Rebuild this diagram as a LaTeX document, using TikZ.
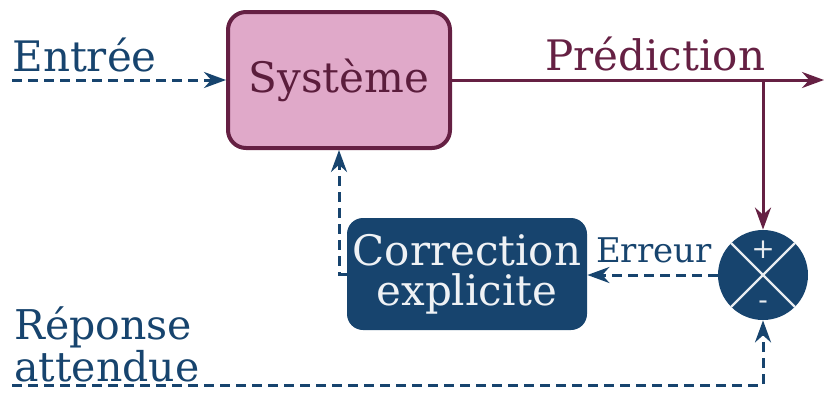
\documentclass[tikz,border=0pt]{standalone}
\usepackage{fontspec}
\setmainfont{DejaVuSerif.ttf}[BoldFont=DejaVuSerif-Bold.ttf]
\usetikzlibrary{arrows.meta,positioning}
\definecolor{bleu}{HTML}{17446E}
\definecolor{prune}{HTML}{652043}
\definecolor{rose}{HTML}{E0A9C9}

\tikzset{
  blk/.style={rectangle,rounded corners=8pt,inner sep=0pt,align=center},
  flux/.style={prune,line width=1.5pt,-{Stealth[length=11pt,width=8pt]}},
  retour/.style={bleu,line width=1.5pt,dash pattern=on 5pt off 3pt,-{Stealth[length=11pt,width=8pt]}},
  lbl/.style={inner sep=0pt,font=\fontsize{21}{21}\selectfont}
}

\begin{document}
\begin{tikzpicture}[x=0.5pt,y=-0.5pt]
  \useasboundingbox (0,0) rectangle (824,392);
  % blocs
  \node[blk,draw=prune,line width=2pt,fill=rose,text=prune!90!black,rounded corners=9pt,
        minimum width=111pt,minimum height=68pt,font=\fontsize{21}{21}\selectfont] (sys) at (339,80) {Système};
  \node[blk,fill=bleu,text=white!93!bleu,minimum width=120pt,minimum height=56pt,
        font=\fontsize{21}{20}\selectfont] (corr) at (467,274) {Correction\\explicite};
  \node[circle,fill=bleu,minimum size=45pt,inner sep=0pt] (sum) at (763,275) {};
  \draw[white!90!bleu,line width=1.2pt] (sum.north west) -- (sum.south east)
    (sum.north east) -- (sum.south west);
  \node[white!90!bleu,font=\fontsize{14}{14}\selectfont] at (763,250) {+};
  \node[white!90!bleu,font=\fontsize{14}{14}\selectfont] at (763,305) {-};
  % textes
  \node[lbl,bleu,anchor=base west] (in) at (12,71) {Entrée};
  \node[lbl,prune,anchor=base west] (pred) at (545,70) {Prédiction};
  \node[inner sep=0pt,bleu,anchor=base east,font=\fontsize{17}{17}\selectfont] (err) at (712,262) {Erreur};
  \node[lbl,bleu,anchor=north west,align=left,font=\fontsize{20.5}{21}\selectfont] (rep) at (14,306) {Réponse\\attendue};
  % liaisons
  \coordinate (e0) at (12,80);
  \coordinate (s1) at (824,80);
  \coordinate (br) at (763,80);
  \coordinate (r0) at (12,385);
  \draw[retour] (e0) -- (sys.west);
  \draw[flux] (sys.east) -- (s1);
  \draw[flux] (br) -- (sum.north);
  \draw[retour] (sum.west) -- (sum.west -| corr.east);
  \draw[retour] (corr.west) -| (sys.south);
  \draw[retour] (r0) -| (sum.south);
\end{tikzpicture}
\end{document}
